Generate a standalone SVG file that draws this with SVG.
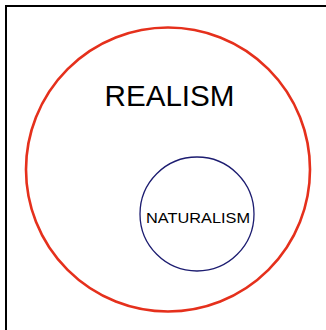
<svg xmlns="http://www.w3.org/2000/svg" width="326" height="330" viewBox="0 0 326 330">
<style>
.lbl{font-family:"Liberation Sans",Arial,sans-serif;fill:#000;text-anchor:middle}
</style>
<rect width="326" height="330" fill="#fff"/>
<path d="M6,330 V6 H326" fill="none" stroke="#000" stroke-width="2"/>
<g id="realism">
<circle cx="168" cy="169.5" r="142" fill="none" stroke="#e5301c" stroke-width="2.6"/>
<text class="lbl" x="169.5" y="106" font-size="30" textLength="130" lengthAdjust="spacingAndGlyphs">REALISM</text>
</g>
<g id="naturalism">
<circle cx="197" cy="214" r="57" fill="none" stroke="#1c1c70" stroke-width="1.3"/>
<text class="lbl" x="198" y="222.5" font-size="15.5" textLength="104" lengthAdjust="spacingAndGlyphs">NATURALISM</text>
</g>
</svg>
